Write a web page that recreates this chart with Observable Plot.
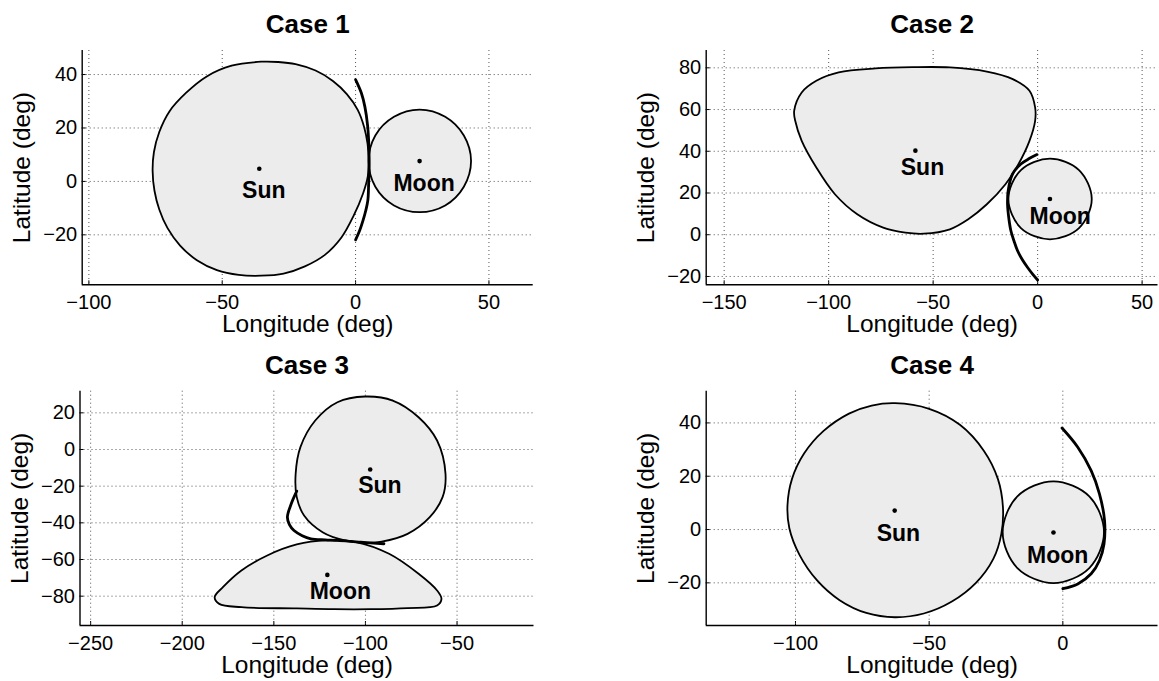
<!DOCTYPE html>
<html>
<head>
<meta charset="utf-8">
<script src="https://cdn.jsdelivr.net/npm/d3@7"></script>
<script src="https://cdn.jsdelivr.net/npm/@observablehq/plot@0.6"></script>
<style>
  body { margin: 0; background: #fff; }
  #chart { position: relative; width: 1159px; height: 681px; overflow: hidden; background: #fff; }
  #chart svg { position: absolute; }
</style>
</head>
<body>
<div id="chart"></div>
<script>
// ---------- Data (longitude, latitude in degrees) ----------
const titles = ["Case 1", "Case 2", "Case 3", "Case 4"];

// Case 1
const case1Sun = [[-35.4,44.8],[-46.5,43.3],[-55.8,39.3],[-63.5,33.2],[-69.8,26.2],[-73.6,18.5],[-75.6,11],[-76.1,4],[-75.4,-3.5],[-73.6,-10.5],[-70.5,-17.5],[-65.8,-24],[-59.5,-29.5],[-52,-33.2],[-43.8,-35],[-35.4,-35.3],[-27,-34.5],[-19,-31.8],[-11.5,-27.5],[-5.3,-21],[-0.8,-13],[2.8,-4.5],[4.6,2],[4.9,7.9],[4.5,14],[3.2,20.4],[0.8,26.8],[-3.2,32.6],[-8.5,37.6],[-15,41.5],[-22.5,43.9],[-29,44.7]];
const case1Moon = [[24,26.9],[33.6,24.2],[40.6,17.2],[43.3,7.6],[40.6,-2],[33.6,-9],[24,-11.5],[14.4,-9],[7.4,-2],[4.9,7.6],[7.4,17.2],[14.4,24.2]];
const case1Path = [[0,38.1],[2.2,33],[3.5,27.9],[4.5,21],[4.9,15.4],[5.1,8],[5.1,5.4],[4.9,-1],[4.6,-7.1],[3.8,-11],[2.8,-14.6],[1.5,-18.5],[0,-21.9]];
const case1Centers = [[-36.1,4.75],[24,7.6]];
const case1Labels = [["Sun",-34.4,-3.6],["Moon",25.7,-0.7]];
const case1XDomain = [-102.5, 66.6], case1YDomain = [-38.7, 49.0];
const case1XTicks = [-100,-50,0,50], case1YTicks = [-20,0,20,40];

// Case 2
const case2Sun = [[-59.8,80.3],[-77.5,79.7],[-95.2,77.8],[-105.9,73.8],[-112.9,68.2],[-116.5,59.4],[-116,54.6],[-112.9,45],[-105.9,32.2],[-97,19.4],[-86.3,9.8],[-73.9,3.4],[-63.3,1],[-54.4,0.5],[-42,2.6],[-33.2,7.4],[-24.3,14.6],[-15.4,24.2],[-9.2,33.8],[-3.9,45],[-1.2,54.6],[-1.2,61],[-3.9,69],[-11.9,74.6],[-24.3,78.2],[-42,80.2]];
const case2Moon = [[5.9,36.5],[19.8,31],[25.9,17.1],[19.8,3.2],[5.9,-2.2],[-8,3.2],[-14,17.1],[-8,31]];
const case2Path = [[-0.3,38.4],[-4,36.5],[-8,33.9],[-12,29.1],[-14.1,21.1],[-14.4,14.7],[-13.8,8],[-12.8,1.9],[-11.3,-3],[-9.6,-7.7],[-7.3,-12],[-4.8,-15.7],[-2.3,-19],[0,-21.7]];
const case2Centers = [[-58.5,40.3],[5.9,17.1]];
const case2Labels = [["Sun",-55.1,32.2],["Moon",10.8,8.6]];
const case2XDomain = [-158.6, 57.6], case2YDomain = [-24, 88.3];
const case2XTicks = [-150,-100,-50,0,50], case2YTicks = [-20,0,20,40,60,80];

// Case 3
const case3Sun = [[-100.2,28.9],[-85.1,26.7],[-71,17.6],[-60.9,4.9],[-56.3,-13.3],[-57.9,-26],[-64.9,-36.9],[-77,-46],[-91.1,-50.2],[-100.2,-50.9],[-111.3,-49.6],[-123.4,-45.1],[-133.5,-36],[-137.5,-26],[-138.1,-13.3],[-135.5,1.3],[-127.4,15.8],[-115.3,25.8]];
const case3Moon = [[-121.4,-49.6],[-105.2,-50.5],[-87.1,-56.9],[-71,-67.8],[-60.9,-76.9],[-58.5,-81.5],[-60.9,-85.1],[-77,-86.5],[-97.2,-87.1],[-117.3,-87.1],[-137.5,-86.7],[-167.7,-86],[-179.8,-84.2],[-182.3,-80.5],[-177.8,-75.1],[-167.7,-66],[-153.6,-57.8],[-137.5,-51.8]];
const case3Path = [[-137.5,-22.7],[-140.5,-29.6],[-142.6,-36.9],[-141.5,-41],[-139,-44.2],[-134.5,-47],[-129.8,-48.7],[-122,-49.3],[-115.3,-49.6],[-102.6,-50.6],[-89.9,-51.4]];
const case3Centers = [[-97.4,-10.9],[-120.8,-68.4]];
const case3Labels = [["Sun",-92.1,-19.6],["Moon",-113.7,-77.3]];
const case3XDomain = [-255.8, -8], case3YDomain = [-96, 31.8];
const case3XTicks = [-250,-200,-150,-100,-50], case3YTicks = [-80,-60,-40,-20,0,20];

// Case 4
const case4Sun = [[-62.8,47.4],[-50,45.3],[-38.5,39.3],[-29.5,29.5],[-24.3,19],[-22.4,8.4],[-23,-1.6],[-26,-11],[-32.5,-20],[-41.5,-27],[-52,-31.5],[-62.8,-32.9],[-73.5,-31.3],[-83.5,-26.5],[-92,-19],[-98.5,-9.5],[-102.3,0.5],[-103,9],[-101.3,19],[-96.8,28.5],[-89.5,37],[-80,43.5],[-71.5,46.5]];
const case4Moon = [[-3.55,18.1],[9.9,12.45],[15.4,-1],[9.9,-14.45],[-3.55,-20.1],[-17,-14.45],[-22.5,-1],[-17,12.45]];
const case4Path = [[-0.3,38.1],[5.6,30.9],[10.6,22.1],[13.7,13.4],[15.6,3.4],[15.4,-5.4],[13.7,-11.6],[10.6,-16.6],[5.6,-20.4],[0,-22.2]];
const case4Centers = [[-62.9,7.1],[-3.5,-1.1]];
const case4Labels = [["Sun",-61.5,-1.6],["Moon",-1.9,-9.75]];
const case4XDomain = [-133.4, 35.6], case4YDomain = [-36, 51.9];
const case4XTicks = [-100,-50,0], case4YTicks = [-20,0,20,40];

const xLabel = "Longitude (deg)";
const yLabel = "Latitude (deg)";

// ---------- Layout ----------
const FONT = "'Liberation Sans', Arial, Helvetica, sans-serif";
const fmt = d => (d < 0 ? "\u2212" + Math.abs(d) : String(d));

function panel(p) {
  const X = d => d[0], Y = d => d[1];
  const centered = { textAnchor: "middle", lineAnchor: "middle", fill: "#000" };
  return Plot.plot({
    width: 580,
    height: p.height,
    marginLeft: p.ml, marginRight: p.mr, marginTop: p.mt, marginBottom: p.mb,
    style: { fontFamily: FONT, fontSize: "20px", color: "#000", background: "transparent", overflow: "visible" },
    x: { domain: p.xDomain, ticks: p.xTicks, tickFormat: fmt, tickSize: -4, tickPadding: 14, label: null },
    y: { domain: p.yDomain, ticks: p.yTicks, tickFormat: fmt, tickSize: -4, tickPadding: 9, label: null },
    marks: [
      Plot.ruleX(p.xTicks, { stroke: "#555", strokeWidth: 1, strokeDasharray: "1,3" }),
      Plot.ruleY(p.yTicks, { stroke: "#555", strokeWidth: 1, strokeDasharray: "1,3" }),
      Plot.line(p.sun, { x: X, y: Y, curve: "catmull-rom-closed", fill: "#ececec", stroke: "#000", strokeWidth: 1.8 }),
      Plot.line(p.moon, { x: X, y: Y, curve: "catmull-rom-closed", fill: "#ececec", stroke: "#000", strokeWidth: 1.8 }),
      Plot.line(p.path, { x: X, y: Y, curve: "catmull-rom", stroke: "#000", strokeWidth: 2.8 }),
      Plot.dot(p.centers, { x: X, y: Y, r: 2.3, fill: "#000", stroke: null }),
      Plot.text(p.labels, { x: d => d[1], y: d => d[2], text: d => d[0], fontWeight: "bold", fontSize: 23, ...centered }),
      Plot.ruleX([p.xDomain[0]], { stroke: "#000", strokeWidth: 1.4 }),
      Plot.ruleY([p.yDomain[0]], { stroke: "#000", strokeWidth: 1.4 }),
      Plot.text([p.title], { text: d => d, frameAnchor: "top", dy: -26, fontSize: 26, fontWeight: "bold", ...centered }),
      Plot.text([xLabel], { text: d => d, frameAnchor: "bottom", dy: 39.6, fontSize: 24.5, ...centered }),
      Plot.text([yLabel], { text: d => d, frameAnchor: "left", dx: -60, rotate: -90, fontSize: 24.5, ...centered })
    ]
  });
}

const panels = [
  { left: 0, top: 0, height: 340, ml: 81.7, mr: 47.3, mt: 50, mb: 55.7, title: titles[0],
    sun: case1Sun, moon: case1Moon, path: case1Path, centers: case1Centers, labels: case1Labels,
    xDomain: case1XDomain, yDomain: case1YDomain, xTicks: case1XTicks, yTicks: case1YTicks },
  { left: 580, top: 0, height: 340, ml: 125.7, mr: 2.5, mt: 50, mb: 55.7, title: titles[1],
    sun: case2Sun, moon: case2Moon, path: case2Path, centers: case2Centers, labels: case2Labels,
    xDomain: case2XDomain, yDomain: case2YDomain, xTicks: case2XTicks, yTicks: case2YTicks },
  { left: 0, top: 340, height: 341, ml: 79.5, mr: 46.5, mt: 50.7, mb: 56, title: titles[2],
    sun: case3Sun, moon: case3Moon, path: case3Path, centers: case3Centers, labels: case3Labels,
    xDomain: case3XDomain, yDomain: case3YDomain, xTicks: case3XTicks, yTicks: case3YTicks },
  { left: 580, top: 340, height: 341, ml: 125.7, mr: 2.5, mt: 50.7, mb: 56, title: titles[3],
    sun: case4Sun, moon: case4Moon, path: case4Path, centers: case4Centers, labels: case4Labels,
    xDomain: case4XDomain, yDomain: case4YDomain, xTicks: case4XTicks, yTicks: case4YTicks }
];

const container = document.getElementById("chart");
for (const p of panels) {
  const svg = panel(p);
  svg.style.left = p.left + "px";
  svg.style.top = p.top + "px";
  container.appendChild(svg);
}
</script>
</body>
</html>
